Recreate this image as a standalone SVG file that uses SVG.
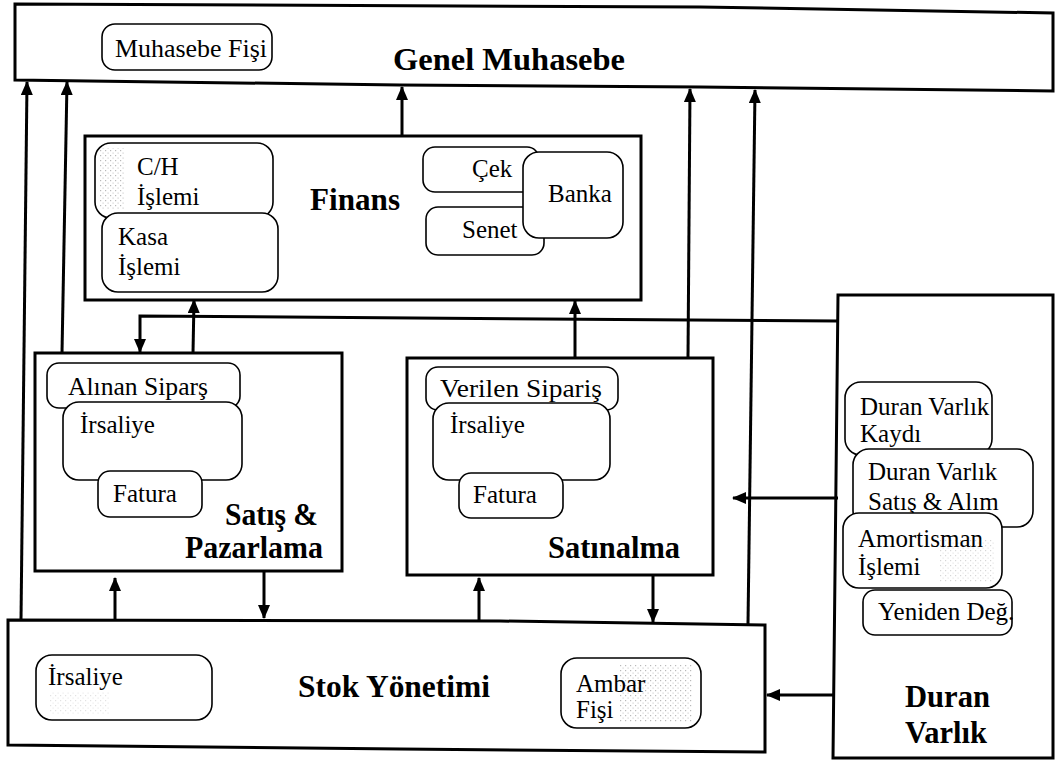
<svg xmlns="http://www.w3.org/2000/svg" width="1055" height="763" viewBox="0 0 1055 763">
  <style>
    .module { fill: #ffffff; stroke: #000; stroke-width: 3; stroke-linejoin: miter; }
    .item { fill: #ffffff; stroke: #000; stroke-width: 1.6; }
    .t { font-family: "Liberation Serif", "Times New Roman", serif; font-size: 25px; fill: #000; }
    .title { font-family: "Liberation Serif", "Times New Roman", serif; font-size: 32px; font-weight: bold; fill: #000; }
    .link { fill: none; stroke: #000; stroke-width: 3; }
    .grain { fill: url(#grain); }
  </style>
  <defs>
    <marker id="arrow" markerUnits="userSpaceOnUse" markerWidth="14" markerHeight="12" refX="13" refY="6" orient="auto">
      <path d="M0,0 L14,6 L0,12 z" fill="#000"/>
    </marker>
    <pattern id="grain" patternUnits="userSpaceOnUse" width="5" height="5">
      <rect x="0" y="0" width="1.2" height="1.2" fill="#8a8a8a"/>
      <rect x="2.5" y="2.5" width="1.2" height="1.2" fill="#b0b0b0"/>
    </pattern>
  </defs>

  <rect width="1055" height="763" fill="#ffffff"/>

  <!-- General ledger module across the top -->
  <g id="genel-muhasebe">
    <polygon class="module" points="15,4 700,7 1053,13 1053,91 700,87 400,85 15,80"/>
    <rect class="item" x="102" y="24" width="170" height="46" rx="13"/>
    <text class="t" x="115" y="57" textLength="152" lengthAdjust="spacingAndGlyphs">Muhasebe Fişi</text>
    <text class="title" x="393" y="70" font-size="35" textLength="232" lengthAdjust="spacingAndGlyphs">Genel Muhasebe</text>
  </g>

  <!-- Finance module -->
  <g id="finans">
    <rect class="module" x="85" y="136" width="556" height="164"/>
    <rect class="item" x="95" y="143" width="178" height="75" rx="16"/>
    <rect class="grain" x="99" y="148" width="26" height="62" opacity="0.6"/>
    <text class="t" x="137" y="175">C/H</text>
    <text class="t" x="137" y="205">İşlemi</text>
    <rect class="item" x="102" y="213" width="176" height="79" rx="16"/>
    <text class="t" x="118" y="245">Kasa</text>
    <text class="t" x="118" y="275">İşlemi</text>
    <text class="title" x="310" y="210" textLength="90" lengthAdjust="spacingAndGlyphs">Finans</text>
    <rect class="item" x="423" y="147" width="116" height="45" rx="12"/>
    <text class="t" x="472" y="177">Çek</text>
    <rect class="item" x="426" y="207" width="118" height="48" rx="12"/>
    <text class="t" x="462" y="238">Senet</text>
    <rect class="item" x="523" y="152" width="100" height="86" rx="16"/>
    <text class="t" x="548" y="202">Banka</text>
  </g>

  <!-- Sales and marketing module -->
  <g id="satis-pazarlama">
    <rect class="module" x="35" y="353" width="307" height="218"/>
    <rect class="item" x="47" y="363" width="193" height="45" rx="12"/>
    <text class="t" x="68" y="395" textLength="140" lengthAdjust="spacingAndGlyphs">Alınan Siparş</text>
    <rect class="item" x="63" y="402" width="179" height="78" rx="16"/>
    <text class="t" x="80" y="433">İrsaliye</text>
    <rect class="item" x="98" y="471" width="104" height="46" rx="12"/>
    <text class="t" x="113" y="502">Fatura</text>
    <text class="title" x="225" y="525" textLength="93" lengthAdjust="spacingAndGlyphs">Satış &amp;</text>
    <text class="title" x="185" y="558" textLength="138" lengthAdjust="spacingAndGlyphs">Pazarlama</text>
  </g>

  <!-- Purchasing module -->
  <g id="satinalma">
    <rect class="module" x="407" y="358" width="306" height="217"/>
    <rect class="item" x="426" y="367" width="192" height="43" rx="12"/>
    <text class="t" x="440" y="397" textLength="162" lengthAdjust="spacingAndGlyphs">Verilen Sipariş</text>
    <rect class="item" x="433" y="403" width="177" height="77" rx="16"/>
    <text class="t" x="450" y="433">İrsaliye</text>
    <rect class="item" x="459" y="473" width="104" height="45" rx="12"/>
    <text class="t" x="473" y="503">Fatura</text>
    <text class="title" x="548" y="558" textLength="132" lengthAdjust="spacingAndGlyphs">Satınalma</text>
  </g>

  <!-- Stock management module -->
  <g id="stok-yonetimi">
    <polygon class="module" points="8,620 500,621 765,625 765,752 400,749 8,745"/>
    <rect class="item" x="36" y="655" width="176" height="65" rx="16"/>
    <rect class="grain" x="50" y="692" width="60" height="22" opacity="0.25"/>
    <text class="t" x="48" y="685">İrsaliye</text>
    <text class="title" x="298" y="697" textLength="192" lengthAdjust="spacingAndGlyphs">Stok Yönetimi</text>
    <rect class="item" x="561" y="658" width="140" height="70" rx="16"/>
    <rect class="grain" x="620" y="664" width="72" height="58" opacity="0.6"/>
    <text class="t" x="576" y="692">Ambar</text>
    <text class="t" x="576" y="718">Fişi</text>
  </g>

  <!-- Fixed assets module -->
  <g id="duran-varlik">
    <polygon class="module" points="838,295 1053,295 1053,758 833,758"/>
    <rect class="item" x="845" y="382" width="147" height="73" rx="16"/>
    <text class="t" x="860" y="415">Duran Varlık</text>
    <text class="t" x="860" y="442">Kaydı</text>
    <rect class="item" x="853" y="449" width="180" height="78" rx="16"/>
    <text class="t" x="868" y="480">Duran Varlık</text>
    <text class="t" x="868" y="510">Satış &amp; Alım</text>
    <rect class="item" x="843" y="513" width="159" height="75" rx="16"/>
    <rect class="grain" x="940" y="540" width="55" height="42" opacity="0.35"/>
    <text class="t" x="858" y="547">Amortisman</text>
    <text class="t" x="858" y="575">İşlemi</text>
    <rect class="item" x="863" y="590" width="149" height="45" rx="12"/>
    <text class="t" x="878" y="620">Yeniden Değ.</text>
    <text class="title" x="905" y="707" textLength="85" lengthAdjust="spacingAndGlyphs">Duran</text>
    <text class="title" x="905" y="743" textLength="82" lengthAdjust="spacingAndGlyphs">Varlık</text>
  </g>

  <!-- Data flows between modules -->
  <g id="connectors">
    <!-- into the general ledger -->
    <line class="link" x1="21" y1="620" x2="27" y2="82" marker-end="url(#arrow)"/>
    <line class="link" x1="62" y1="353" x2="67" y2="82" marker-end="url(#arrow)"/>
    <line class="link" x1="402" y1="136" x2="402" y2="87" marker-end="url(#arrow)"/>
    <line class="link" x1="688" y1="358" x2="690" y2="89" marker-end="url(#arrow)"/>
    <line class="link" x1="748" y1="624" x2="755" y2="90" marker-end="url(#arrow)"/>
    <!-- into finance -->
    <line class="link" x1="193" y1="353" x2="194" y2="300" marker-end="url(#arrow)"/>
    <line class="link" x1="575" y1="358" x2="575" y2="301" marker-end="url(#arrow)"/>
    <!-- fixed assets to sales -->
    <polyline class="link" points="838,321 140,316 140,352" marker-end="url(#arrow)"/>
    <!-- fixed assets to purchasing and stock -->
    <line class="link" x1="838" y1="498" x2="733" y2="498" marker-end="url(#arrow)"/>
    <line class="link" x1="834" y1="695" x2="767" y2="695" marker-end="url(#arrow)"/>
    <!-- between stock and sales / purchasing -->
    <line class="link" x1="115" y1="620" x2="115" y2="578" marker-end="url(#arrow)"/>
    <line class="link" x1="264" y1="572" x2="264" y2="618" marker-end="url(#arrow)"/>
    <line class="link" x1="479" y1="622" x2="479" y2="578" marker-end="url(#arrow)"/>
    <line class="link" x1="653" y1="576" x2="653" y2="622" marker-end="url(#arrow)"/>
  </g>
</svg>
